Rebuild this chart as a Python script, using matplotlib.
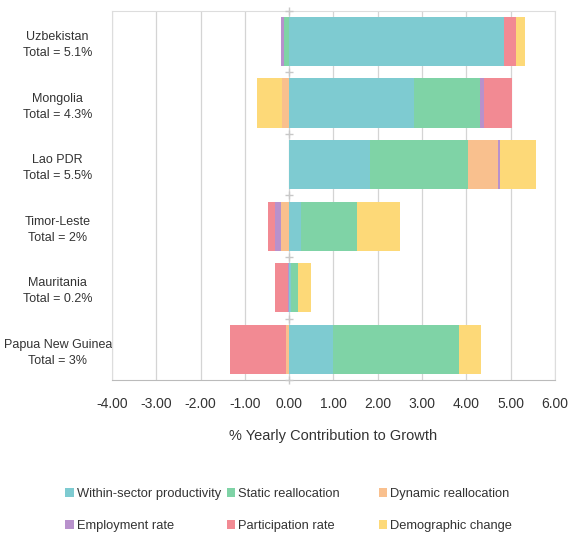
import numpy as np
import matplotlib
matplotlib.use("Agg")
import matplotlib.pyplot as plt

plt.rcParams['font.family'] = ['Liberation Sans', 'DejaVu Sans']

countries = ["Uzbekistan\nTotal = 5.1%", "Mongolia\nTotal = 4.3%", "Lao PDR\nTotal = 5.5%",
             "Timor-Leste\nTotal = 2%", "Mauritania\nTotal = 0.2%", "Papua New Guinea\nTotal = 3%"]

within = [4.84, 2.81, 1.83, 0.27, 0.04, 1.00]
static = [-0.12, 1.49, 2.20, 1.25, 0.15, 2.84]
dynamic = [0.0, -0.16, 0.69, -0.19, 0.0, -0.08]
employment = [-0.07, 0.09, 0.03, -0.12, -0.03, 0.0]
participation = [0.28, 0.63, 0.0, -0.17, -0.30, -1.25]
demographic = [0.21, -0.57, 0.82, 0.98, 0.30, 0.48]

series_names = ["Within-sector productivity", "Static reallocation", "Dynamic reallocation",
                "Employment rate", "Participation rate", "Demographic change"]
colors = ["#7ecbd1", "#7fd3a6", "#f9c08e", "#b891cc", "#f28a93", "#fdd978"]
series = [within, static, dynamic, employment, participation, demographic]

fig = plt.figure(figsize=(5.71, 5.34), dpi=100)
ax = fig.add_axes([0.196, 0.288, 0.776, 0.692])

y = np.arange(len(countries))
pos = np.zeros(len(countries))
neg = np.zeros(len(countries))
handles = []
for vals, name, c in zip(series, series_names, colors):
    v = np.array(vals)
    left = np.where(v >= 0, pos, neg)
    b = ax.barh(y, v, left=left, height=0.8, color=c, label=name, zorder=3)
    handles.append(b)
    pos = pos + np.where(v > 0, v, 0)
    neg = neg + np.where(v < 0, v, 0)

ax.set_xlim(-4, 6)
ax.set_ylim(len(countries) - 0.5, -0.5)
ax.set_xticks(np.arange(-4, 7, 1))
ax.set_xticklabels(["%.2f" % t for t in np.arange(-4, 7, 1)], fontsize=10, color="#333333")
ax.set_yticks(y)
ax.set_yticklabels(countries, fontsize=9, color="#333333", ha="center", linespacing=1.45)
ax.tick_params(axis="y", length=0, pad=39)
ax.tick_params(axis="x", length=0, pad=12)
ax.xaxis.grid(True, color="#d4d4d4", linewidth=0.9, zorder=0)

# category ticks along the zero line
bounds = np.arange(len(countries) + 1) - 0.5
ax.plot(np.zeros(len(bounds)), bounds, linestyle="none", marker="+", markersize=6,
        color="#c8c8c8", zorder=4, clip_on=False)

for s in ["left", "top", "right"]:
    ax.spines[s].set_color("#dddddd")
ax.spines["bottom"].set_color("#bbbbbb")

ax.set_xlabel("% Yearly Contribution to Growth", fontsize=10.5, color="#333333", labelpad=13)

# legend: three columns of two rows
col_x = [0.105, 0.388, 0.654]
for k, x0 in enumerate(col_x):
    idx = [k, k + 3]
    leg = fig.legend([handles[i] for i in idx], [series_names[i] for i in idx],
                     loc="lower left", bbox_to_anchor=(x0, -0.006), ncol=1, frameon=False,
                     fontsize=9.3, handlelength=0.65, handleheight=0.65, handletextpad=0.25,
                     labelspacing=1.55, labelcolor="#333333", borderaxespad=0.0)

fig.savefig("out.png", dpi=100)
